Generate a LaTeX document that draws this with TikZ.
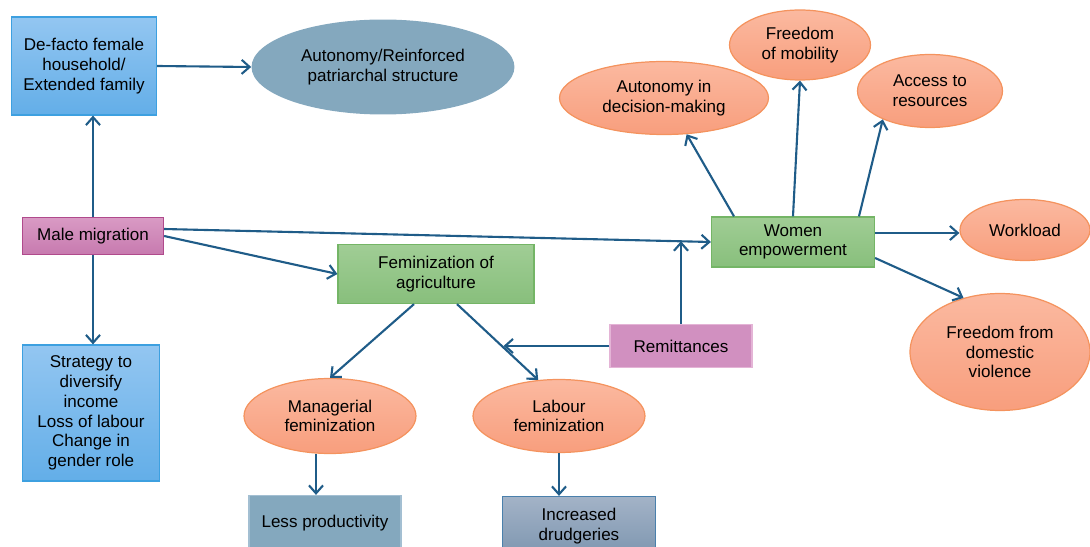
\documentclass[tikz,border=0pt]{standalone}
\usepackage{fontspec}
\setmainfont{Liberation Sans}
\usetikzlibrary{shapes.geometric,arrows.meta,calc}

\definecolor{arrowblue}{HTML}{1F5C88}
\definecolor{bluetop}{HTML}{93C6F1}
\definecolor{bluebot}{HTML}{63AEE8}
\definecolor{blueline}{HTML}{3DA0E0}
\definecolor{patrifill}{HTML}{84A8BE}
\definecolor{pinktop}{HTML}{D99AC4}
\definecolor{pinkbot}{HTML}{C77AAF}
\definecolor{pinkline}{HTML}{B04A8C}
\definecolor{remitfill}{HTML}{D190C0}
\definecolor{remitline}{HTML}{E4B4D6}
\definecolor{greentop}{HTML}{A0CD95}
\definecolor{greenbot}{HTML}{88BF7C}
\definecolor{greenline}{HTML}{74B566}
\definecolor{salmontop}{HTML}{FBB9A0}
\definecolor{salmonbot}{HTML}{F89E7D}
\definecolor{salmonline}{HTML}{F4935E}
\definecolor{steelfill}{HTML}{84A8BE}
\definecolor{steelline}{HTML}{A3BFD2}
\definecolor{drudtop}{HTML}{A3B3C7}
\definecolor{drudbot}{HTML}{7E96B0}
\definecolor{drudline}{HTML}{4A80AC}

\begin{document}
\begin{tikzpicture}[x=0.02cm,y=-0.02cm,
    font=\fontsize{9.7}{11.2}\selectfont,
    box/.style={rectangle,align=center,inner sep=0pt,line width=0.7pt},
    bluebox/.style={box,draw=blueline,top color=bluetop,bottom color=bluebot},
    pinkbox/.style={box,draw=pinkline,top color=pinktop,bottom color=pinkbot},
    remitbox/.style={box,draw=remitline,fill=remitfill},
    greenbox/.style={box,draw=greenline,top color=greentop,bottom color=greenbot},
    steelbox/.style={box,draw=steelline,fill=steelfill},
    drudbox/.style={box,draw=drudline,top color=drudtop,bottom color=drudbot},
    salmon/.style={ellipse,align=center,inner sep=0pt,line width=0.7pt,draw=salmonline,top color=salmontop,bottom color=salmonbot},
    greyell/.style={ellipse,align=center,inner sep=0pt,fill=patrifill},
    arr/.style={arrowblue,line width=1.2pt,-{Straight Barb[length=4.5pt,width=8pt]}}]

\useasboundingbox (0,0) rectangle (1090,547);

% left column
\node[bluebox,minimum width=2.9cm,minimum height=1.96cm] (defacto) at (84,66) {De-facto female\\household/\\Extended family};
\node[greyell,minimum width=5.26cm,minimum height=1.9cm] (patri) at (383,67) {Autonomy/Reinforced\\patriarchal structure};
\node[pinkbox,minimum width=2.82cm,minimum height=0.74cm] (male) at (93,236) {Male migration};
\node[bluebox,minimum width=2.74cm,minimum height=2.72cm] (strategy) at (91,413) {Strategy to\\diversify\\income\\Loss of labour\\Change in\\gender role};

% agriculture
\node[greenbox,minimum width=3.92cm,minimum height=1.18cm] (fem) at (436,274) {Feminization of\\agriculture};
\node[salmon,minimum width=3.44cm,minimum height=1.5cm] (manag) at (330,416) {Managerial\\feminization};
\node[salmon,minimum width=3.44cm,minimum height=1.46cm] (labour) at (559,416) {Labour\\feminization};
\node[steelbox,minimum width=3.04cm,minimum height=1.1cm] (lessprod) at (325,523) {Less productivity};
\node[drudbox,minimum width=3.06cm,minimum height=1.18cm] (drudg) at (579,526) {Increased\\drudgeries};
\node[remitbox,minimum width=2.84cm,minimum height=0.86cm] (remit) at (681,346) {Remittances};

% empowerment
\node[greenbox,minimum width=3.26cm,minimum height=1cm] (women) at (793,242) {Women\\empowerment};
\node[salmon,minimum width=4.18cm,minimum height=1.46cm] (decision) at (664,98) {Autonomy in\\decision-making};
\node[salmon,minimum width=2.82cm,minimum height=1.4cm] (mobility) at (800,45) {Freedom\\of mobility};
\node[salmon,minimum width=2.9cm,minimum height=1.46cm] (resources) at (930,91) {Access to\\resources};
\node[salmon,minimum width=2.6cm,minimum height=1.22cm] (workload) at (1025,230) {Workload};
\node[salmon,minimum width=3.6cm,minimum height=2.34cm] (violence) at (1000,352) {Freedom from\\domestic\\violence};

\coordinate (m1) at ([yshift=0.14cm]male.east);
\coordinate (f1) at ([xshift=-0.44cm]fem.south);
\coordinate (f2) at ([xshift=0.42cm]fem.south);
\coordinate (mw) at ($(m1)!0.944!(women.west)$);
\coordinate (fl) at ($(f2)!0.573!(labour.120)$);
\coordinate (ml) at ([xshift=-0.28cm]manag.south);
\coordinate (w1) at ([yshift=0.18cm]women.east);

\path[arr]
    (male.north) edge (male.north |- defacto.south)
    (male.south) edge (male.south |- strategy.north)
    (defacto.east) edge (patri.west)
    (m1) edge (women.west)
    (male.east) edge (fem.west)
    (f1) edge (manag.north)
    (f2) edge (labour.120)
    (remit.west) edge (remit.west -| fl)
    (remit.north) edge (remit.north |- mw)
    (ml) edge (ml |- lessprod.north)
    (labour.south) edge (labour.south |- drudg.north);

\path[arr]
    ([xshift=-1.18cm]women.north) edge (decision.302)
    (women.north) edge (mobility.south)
    ([xshift=1.32cm]women.north) edge (resources.211)
    (w1) edge (w1 -| workload.west)
    ([yshift=-0.32cm]women.east) edge (violence.124);
\end{tikzpicture}
\end{document}
